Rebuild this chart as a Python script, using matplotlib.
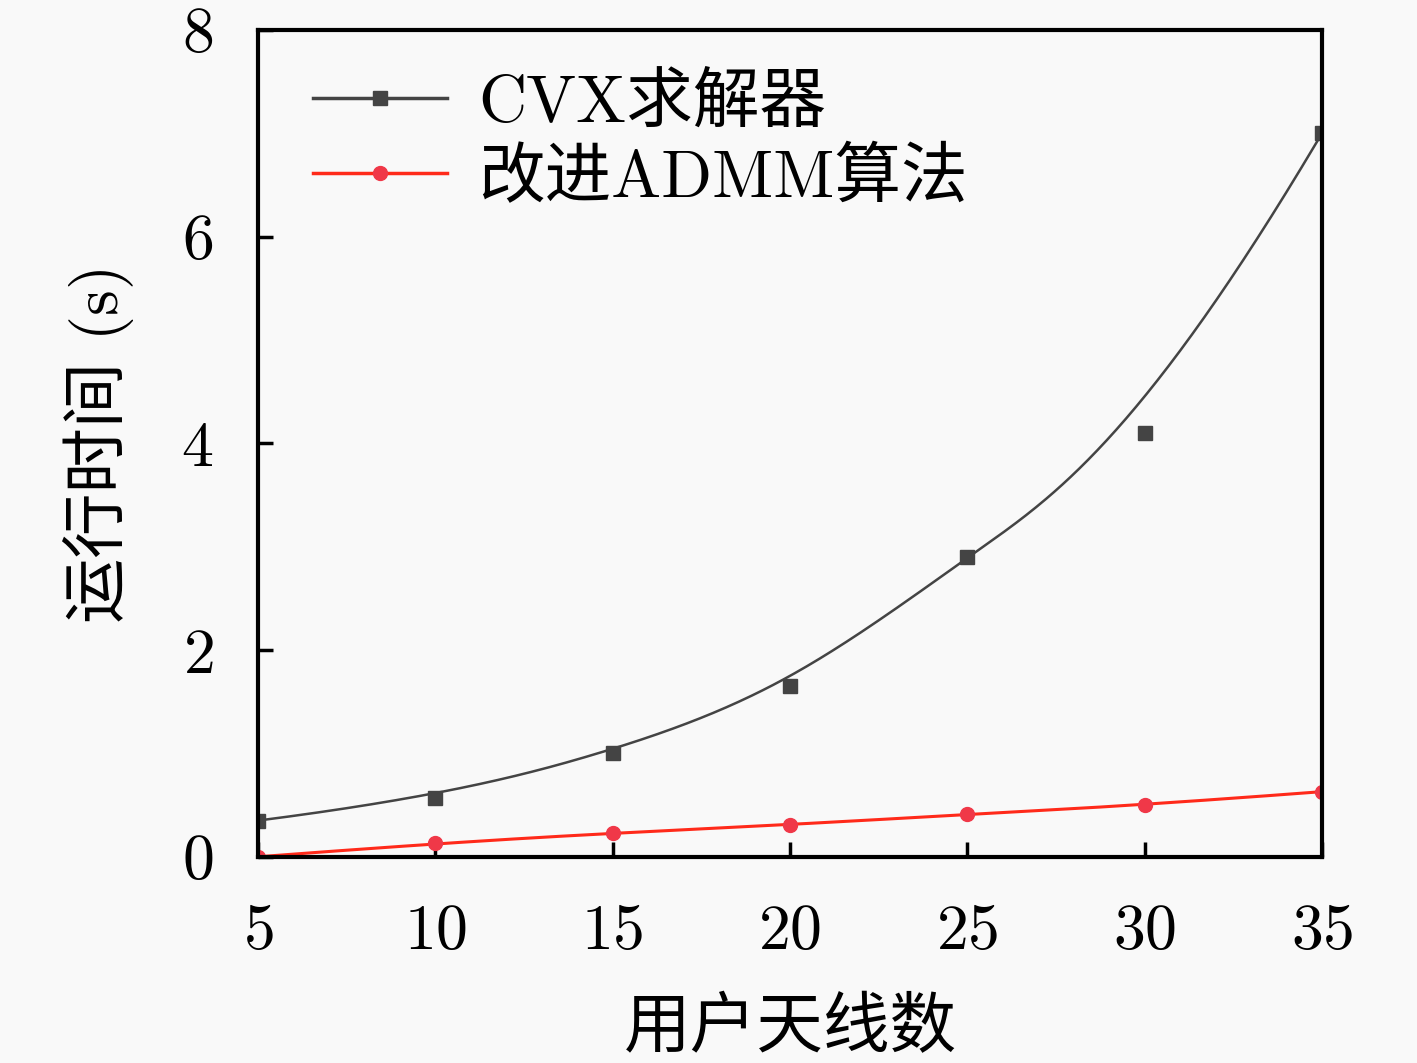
import numpy as np
import matplotlib
matplotlib.use("Agg")
import matplotlib.pyplot as plt

# 数据
antennas = [5, 10, 15, 20, 25, 30, 35]
cvx_time = [0.35, 0.57, 1.00, 1.65, 2.90, 4.10, 7.00]
admm_time = [0.00, 0.13, 0.23, 0.31, 0.41, 0.50, 0.63]

xticks = [5, 10, 15, 20, 25, 30, 35]
yticks = [0, 2, 4, 6, 8]

plt.rcParams['font.family'] = ['cmr10', 'Noto Sans CJK SC', 'DejaVu Sans']
plt.rcParams['axes.formatter.use_mathtext'] = True
plt.rcParams['mathtext.fontset'] = 'cm'


def bspline(px, py, k=3, num=400):
    """Clamped uniform B-spline using the data points as control points (like Origin's B-Spline line)."""
    P = np.column_stack([px, py]).astype(float)
    n = len(P)
    inner = np.arange(1, n - k)
    knots = np.concatenate([np.zeros(k + 1), inner, np.full(k + 1, n - k)]).astype(float)
    ts = np.linspace(0, n - k, num)
    ts[-1] -= 1e-9

    def basis(i, d, t):
        if d == 0:
            return np.where((knots[i] <= t) & (t < knots[i + 1]), 1.0, 0.0)
        out = np.zeros_like(t)
        den1 = knots[i + d] - knots[i]
        den2 = knots[i + d + 1] - knots[i + 1]
        if den1 > 0:
            out += (t - knots[i]) / den1 * basis(i, d - 1, t)
        if den2 > 0:
            out += (knots[i + d + 1] - t) / den2 * basis(i + 1, d - 1, t)
        return out

    B = np.column_stack([basis(i, k, ts) for i in range(n)])
    C = B @ P
    return C[:, 0], C[:, 1]


bx1, by1 = bspline(antennas, cvx_time)
bx2, by2 = bspline(antennas, admm_time)

fig = plt.figure(figsize=(14.17, 10.63), dpi=100, facecolor='#f9f9f9')
ax = fig.add_axes([0.182, 0.194, 0.751, 0.778])
ax.set_facecolor('#f9f9f9')

black = '#444444'
red = '#ff2a1a'

ax.plot(bx1, by1, color=black, lw=1.8)
ax.plot(antennas, cvx_time, 's', color=black, ms=10, ls='none')
ax.plot(bx2, by2, color=red, lw=2.2)
ax.plot(antennas, admm_time, 'o', color='#f03848', ms=10, ls='none')

# 图例句柄
h1, = ax.plot([], [], color=black, lw=2.5, marker='s', ms=10)
h2, = ax.plot([], [], color=red, lw=2.5, marker='o', mfc='#f03848', mec='#f03848', ms=10)
leg = ax.legend([h1, h2], ['CVX求解器', '改进ADMM算法'], loc='upper left',
                frameon=False, fontsize=48, handlelength=2.0, handletextpad=0.47,
                labelspacing=0.2, bbox_to_anchor=(0.027, 0.98), borderaxespad=0)

ax.set_xlim(5, 35)
ax.set_ylim(0, 8)
ax.set_xticks(xticks)
ax.set_yticks(yticks)
ax.tick_params(direction='in', length=11, width=2.5, labelsize=46,
               top=False, right=False)
ax.tick_params(axis='x', pad=34)
ax.tick_params(axis='y', pad=32)
for s in ax.spines.values():
    s.set_linewidth(3)

ax.set_xlabel('用户天线数', fontsize=48, labelpad=26)
ax.set_ylabel('运行时间 (s)', fontsize=47, labelpad=34)

fig.savefig('out.png', dpi=100, facecolor=fig.get_facecolor())
